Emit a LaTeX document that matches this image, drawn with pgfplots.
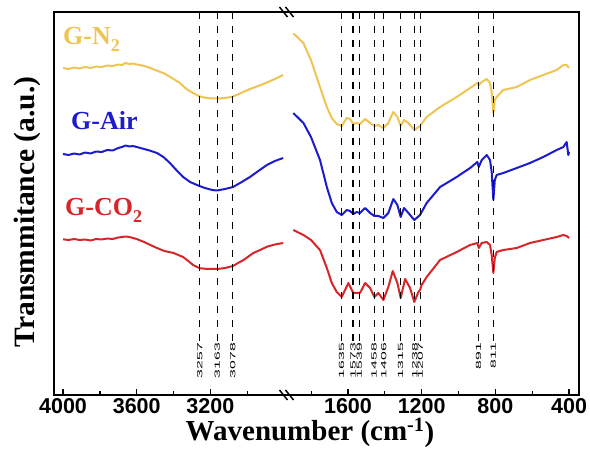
\documentclass[border=0pt]{standalone}
\usepackage{fontspec}
\setmainfont{Liberation Serif}
\newfontfamily\sansf{Liberation Sans}
\usepackage{graphicx}
\usepackage{pgfplots}
\pgfplotsset{compat=1.18}

\definecolor{cN}{RGB}{238,196,84}
\definecolor{cA}{RGB}{28,28,205}
\definecolor{cC}{RGB}{215,38,42}
\newcommand{\sub}[1]{\raisebox{-7pt}{\fontsize{18}{18}\selectfont #1}}

\begin{document}
\begin{tikzpicture}
\useasboundingbox (0,0) rectangle (590pt,464pt);
\begin{axis}[
  at={(54pt,69pt)}, anchor=south west,
  width=525pt, height=383pt, scale only axis,
  x coord trafo/.code={\pgfmathparse{#1>2500 ? 4000-#1 : 3147-#1}},
  xmin=4049, xmax=346,
  ymin=0, ymax=383, ytick=\empty,
  xtick={4000,3600,3200,1600,1200,800,400},
  xticklabels={4000,3600,3200,1600,1200,800,400},
  minor xtick={3800,3400,3000,1800,1400,1000,600},
  xtick pos=left, tick align=inside,
  major tick length=6pt, minor tick length=3.5pt,
  every tick/.style={black, line width=1.3pt},
  axis line style={line width=1.8pt},
  xticklabel style={font=\sansf\bfseries\fontsize{21.5}{21.5}\selectfont},
  every axis plot/.append style={line width=2pt, line join=round},
]
% G-N2
\addplot[cN] coordinates {
(4000,327) (3970,326) (3940,327.5) (3910,326.5) (3880,328) (3850,327) (3820,328.5) (3790,328) (3760,329.5) (3730,329) (3700,330.5) (3680,330) (3660,332) (3640,331) (3620,331.5) (3600,330.5) (3570,329.5) (3540,328) (3500,325) (3450,321.5) (3400,316) (3365,312) (3330,306) (3294,302) (3257,298.5) (3220,297) (3190,296.5) (3163,296.5) (3120,297) (3077,298.5) (3040,301.5) (2985,306) (2940,309) (2893,312.5) (2850,316) (2805,320)};
\addplot[cN] coordinates {
(1897,361.7) (1842,352) (1801,335) (1752,308) (1715,288) (1688,277) (1661,271) (1634,269) (1607,277) (1589,276) (1571,271) (1553,272) (1535,271) (1507,276) (1480,272) (1457,269) (1435,270) (1408,267) (1381,272) (1354,283) (1332,278) (1314,269) (1296,275) (1272,272) (1240,265) (1209,269) (1173,278) (1100,288) (1010,298) (937,307) (898,312) (890,310) (874,313) (847,316) (829,312) (820,303) (811,282) (803,295) (793,298) (757,305) (684,308) (612,315) (540,320) (467,325) (431,330) (413,330) (400,327)};
% G-Air
\addplot[cA] coordinates {
(4000,241) (3970,240) (3940,241.5) (3910,240.5) (3880,242.5) (3850,241.5) (3820,243.5) (3790,243) (3760,245) (3730,244.5) (3700,247) (3680,248) (3660,249.5) (3640,248.5) (3620,249) (3600,248) (3570,246.5) (3530,244.5) (3490,242) (3455,238) (3420,232) (3385,225) (3348,218) (3310,213) (3273,210) (3230,207) (3190,205) (3165,204.5) (3120,206) (3077,208) (3030,213) (2985,218) (2940,224) (2893,230) (2850,234) (2805,237)};
\addplot[cA] coordinates {
(1897,282) (1842,272) (1801,258) (1752,235) (1715,208) (1688,192) (1661,183) (1634,180) (1607,185) (1589,184) (1571,181) (1553,183) (1535,182) (1507,187) (1480,182) (1457,179) (1435,179) (1408,177) (1381,182) (1354,196) (1332,190) (1314,178) (1296,187) (1272,182) (1240,175) (1209,180) (1173,192) (1100,208) (1010,218) (937,227) (898,233) (890,228) (874,235) (847,240) (829,235) (820,223) (811,195) (803,215) (793,220) (757,222) (684,227) (612,232) (540,238) (467,245) (431,248) (413,253) (404,240) (400,243)};
% G-CO2
\addplot[cC] coordinates {
(4000,155.7) (3970,155) (3940,156) (3910,155) (3880,155.5) (3850,154.5) (3820,156) (3790,155.5) (3760,156.5) (3730,156) (3700,157.5) (3680,158) (3660,158.5) (3640,158) (3620,157) (3600,156) (3560,153) (3520,149.5) (3490,147) (3450,144) (3400,142) (3348,138) (3320,134) (3294,130) (3257,126.7) (3210,126) (3163,126) (3120,127) (3077,129) (3050,132) (3020,135) (2967,142) (2930,145) (2893,148.3) (2850,150.5) (2805,152)};
\addplot[cC] coordinates {
(1897,165) (1842,160) (1801,155) (1752,145) (1715,127) (1688,112) (1661,103) (1634,98) (1598,112) (1571,102) (1553,102) (1535,102) (1507,112) (1480,107) (1457,98) (1435,102) (1408,95) (1381,108) (1357,124) (1332,112) (1314,97) (1290,116) (1263,107) (1240,93) (1218,103) (1209,105) (1200,110) (1173,118) (1100,135) (1010,143) (937,150) (898,152) (890,147) (874,152) (847,153) (829,150) (820,140) (811,122) (803,137) (793,143) (757,145) (684,147) (612,152) (540,155) (467,158) (431,160) (413,159) (400,157)};
% reference lines and labels
\pgfplotsinvokeforeach{3257,3163,3078,1635,1573,1539,1458,1406,1315,1238,1207,891,811}{
  \addplot[black, line width=1.2pt, dash pattern=on 7pt off 7pt] coordinates {(#1,54) (#1,383)};
  \node[rotate=90, anchor=east, inner sep=0pt, font=\sansf\fontsize{7.5}{7.5}\selectfont] at (axis cs:#1,52) {\scalebox{2.1}[1]{#1}};
}
\end{axis}
% axis break marks
\foreach \yy in {452,69}{
  \draw[line width=1.5pt] (279.5pt,\yy pt+5pt) -- (287.5pt,\yy pt-5pt);
  \draw[line width=1.5pt] (285.5pt,\yy pt+5pt) -- (293.5pt,\yy pt-5pt);
}
% series labels
\node[anchor=base west, inner sep=0pt, text=cN, font=\bfseries\fontsize{26}{26}\selectfont] at (63pt,419pt) {G-N\sub{2}};
\node[anchor=base west, inner sep=0pt, text=cA, font=\bfseries\fontsize{26}{26}\selectfont] at (71pt,334pt) {G-Air};
\node[anchor=base west, inner sep=0pt, text=cC, font=\bfseries\fontsize{26}{26}\selectfont] at (65pt,248pt) {G-CO\sub{2}};
% axis titles
\node[anchor=base, inner sep=0pt, font=\bfseries\fontsize{29}{29}\selectfont] at (310pt,23pt) {Wavenumber (cm\textsuperscript{-1})};
\node[rotate=90, inner sep=0pt, font=\bfseries\fontsize{29.5}{29.5}\selectfont] at (27pt,252pt) {Transmmitance (a.u.)};
\end{tikzpicture}
\end{document}
